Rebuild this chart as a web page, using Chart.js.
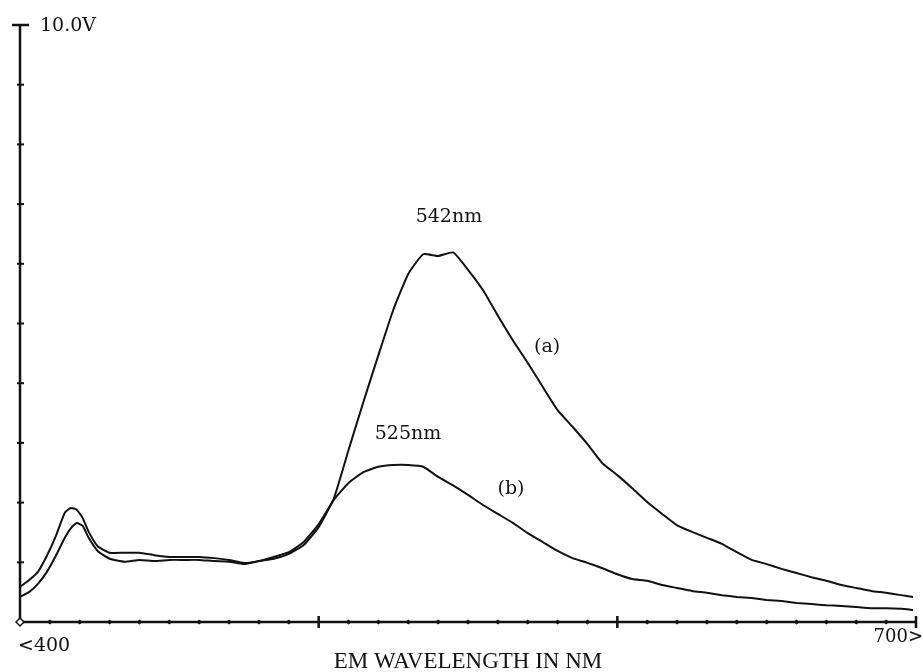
<!DOCTYPE html>
<html>
<head>
<meta charset="utf-8">
<title>EM wavelength scan</title>
<script src="https://cdn.jsdelivr.net/npm/chart.js@4.4.1/dist/chart.umd.min.js"></script>
<style>
  html, body { margin: 0; padding: 0; background: #fff; }
  #wrap { width: 923px; height: 672px; }
</style>
</head>
<body>
<div id="wrap"><canvas id="emChart" width="923" height="672"></canvas></div>
<script>
// Emission wavelength (nm) and detector voltage (V)
const wavelengths = [400, 403, 406, 409, 412, 415, 417, 419, 421, 423, 426, 430, 435, 440, 445, 450, 455, 460, 465, 470, 475, 480, 485, 490, 495, 500, 505, 510, 515, 520, 525, 530, 535, 540, 545, 550, 555, 560, 565, 570, 575, 580, 585, 590, 595, 600, 605, 610, 615, 620, 625, 630, 635, 640, 645, 650, 655, 660, 665, 670, 675, 680, 685, 690, 695, 699];

const seriesA = [0.59, 0.70, 0.84, 1.11, 1.44, 1.83, 1.91, 1.88, 1.74, 1.51, 1.27, 1.16, 1.16, 1.16, 1.12, 1.09, 1.09, 1.09, 1.07, 1.04, 0.99, 1.02, 1.09, 1.17, 1.34, 1.64, 2.06, 2.88, 3.69, 4.47, 5.23, 5.83, 6.16, 6.13, 6.19, 5.90, 5.56, 5.13, 4.72, 4.34, 3.94, 3.55, 3.27, 2.98, 2.66, 2.46, 2.24, 2.01, 1.81, 1.62, 1.51, 1.41, 1.31, 1.17, 1.04, 0.97, 0.89, 0.82, 0.75, 0.69, 0.62, 0.57, 0.52, 0.49, 0.45, 0.42];

const seriesB = [0.42, 0.50, 0.64, 0.84, 1.11, 1.41, 1.57, 1.66, 1.61, 1.41, 1.19, 1.06, 1.01, 1.04, 1.02, 1.04, 1.04, 1.04, 1.02, 1.01, 0.97, 1.02, 1.06, 1.14, 1.29, 1.59, 2.04, 2.33, 2.51, 2.60, 2.63, 2.63, 2.60, 2.43, 2.29, 2.13, 1.96, 1.81, 1.66, 1.49, 1.34, 1.19, 1.07, 0.99, 0.90, 0.80, 0.72, 0.69, 0.62, 0.57, 0.52, 0.49, 0.45, 0.42, 0.40, 0.37, 0.35, 0.32, 0.30, 0.28, 0.27, 0.25, 0.23, 0.23, 0.22, 0.20];

// axis range and ticks
const xMin = 400, xMax = 700, xMinorStep = 10, xMajor = [500, 600, 700];
const yMin = 0, yMax = 10, yStep = 1;

// annotations placed in data coordinates
const noteText = ['542nm', '525nm', '(a)', '(b)'];
const noteX = [543.6, 529.9, 576.5, 564.4];
const noteY = [6.78, 3.15, 4.61, 2.22];

const toPoints = (vals) => wavelengths.map((w, i) => ({ x: w, y: vals[i] }));

const serif = "'DejaVu Serif', 'Liberation Serif', serif";

const axesPlugin = {
    id: 'scanAxes',
    afterDatasetsDraw(chart) {
        const ctx = chart.ctx;
        const xs = chart.scales.x, ys = chart.scales.y;
        const x0 = xs.getPixelForValue(xMin), x1 = xs.getPixelForValue(xMax);
        const y0 = ys.getPixelForValue(yMin), y1 = ys.getPixelForValue(yMax);

        ctx.save();
        ctx.strokeStyle = '#111';
        ctx.fillStyle = '#111';
        ctx.lineCap = 'butt';

        // axis lines
        ctx.lineWidth = 2.5;
        ctx.beginPath();
        ctx.moveTo(x0, y1);
        ctx.lineTo(x0, y0);
        ctx.lineTo(x1, y0);
        ctx.stroke();

        // y ticks
        ctx.lineWidth = 2;
        for (let v = yMin + yStep; v < yMax; v += yStep) {
            const py = ys.getPixelForValue(v);
            ctx.beginPath();
            ctx.moveTo(x0 - 3, py);
            ctx.lineTo(x0 + 4, py);
            ctx.stroke();
        }
        // top cap
        ctx.lineWidth = 2.5;
        ctx.beginPath();
        ctx.moveTo(x0 - 8, y1);
        ctx.lineTo(x0 + 9, y1);
        ctx.stroke();

        // x ticks
        for (let w = xMin + xMinorStep; w <= xMax; w += xMinorStep) {
            const px = xs.getPixelForValue(w);
            if (xMajor.includes(w)) {
                ctx.lineWidth = 2.5;
                ctx.beginPath();
                ctx.moveTo(px, y0 - 6);
                ctx.lineTo(px, y0 + 6);
                ctx.stroke();
            } else {
                ctx.beginPath();
                ctx.moveTo(px - 3, y0);
                ctx.lineTo(px, y0 - 2.5);
                ctx.lineTo(px + 3, y0);
                ctx.lineTo(px, y0 + 2.5);
                ctx.closePath();
                ctx.fill();
            }
        }
        // origin marker
        ctx.lineWidth = 1.5;
        ctx.fillStyle = '#fff';
        ctx.beginPath();
        ctx.moveTo(x0 - 4, y0);
        ctx.lineTo(x0, y0 - 4);
        ctx.lineTo(x0 + 4, y0);
        ctx.lineTo(x0, y0 + 4);
        ctx.closePath();
        ctx.fill();
        ctx.stroke();

        // texts
        ctx.fillStyle = '#111';
        ctx.textBaseline = 'middle';
        ctx.font = '19px ' + serif;
        ctx.textAlign = 'left';
        ctx.fillText('10.0V', x0 + 20, y1 + 1);
        ctx.fillText('<400', x0 - 2, y0 + 24);
        ctx.font = '18px ' + serif;
        ctx.textAlign = 'right';
        ctx.fillText('700>', x1 + 7, y0 + 15);

        ctx.font = '19px ' + serif;
        ctx.textAlign = 'center';
        noteText.forEach((t, i) => {
            ctx.fillText(t, xs.getPixelForValue(noteX[i]), ys.getPixelForValue(noteY[i]));
        });

        ctx.font = "23px 'Liberation Serif', 'DejaVu Serif', serif";
        ctx.fillText('EM WAVELENGTH IN NM', (x0 + x1) / 2, y0 + 40);
        ctx.restore();
    }
};

new Chart(document.getElementById('emChart'), {
    type: 'scatter',
    data: {
        datasets: [
            { label: '(a)', data: toPoints(seriesA), showLine: true, borderColor: '#111', borderWidth: 2, pointRadius: 0, tension: 0.15, fill: false },
            { label: '(b)', data: toPoints(seriesB), showLine: true, borderColor: '#111', borderWidth: 2, pointRadius: 0, tension: 0.15, fill: false }
        ]
    },
    options: {
        responsive: false,
        animation: false,
        layout: { padding: { left: 20, right: 7, top: 25, bottom: 50 } },
        plugins: { legend: { display: false }, tooltip: { enabled: false } },
        scales: {
            x: { type: 'linear', min: xMin, max: xMax, display: false },
            y: { type: 'linear', min: yMin, max: yMax, display: false }
        }
    },
    plugins: [axesPlugin]
});
</script>
</body>
</html>
